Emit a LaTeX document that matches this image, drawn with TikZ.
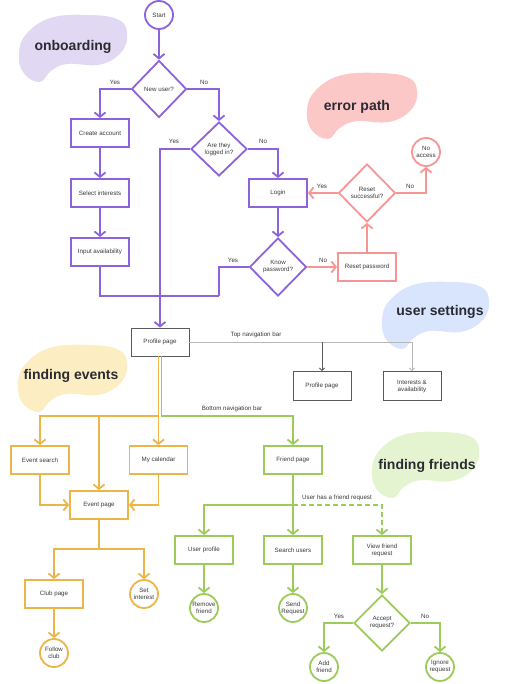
\documentclass[tikz,border=0pt]{standalone}
\usepackage{fontspec}
\setmainfont{Liberation Sans}
\usetikzlibrary{shapes.geometric,arrows.meta,calc}
\definecolor{pur}{HTML}{8C63DB}
\definecolor{sal}{HTML}{F79494}
\definecolor{ora}{HTML}{ECB548}
\definecolor{grn}{HTML}{9DCB5A}
\definecolor{dgray}{HTML}{5A5A5A}
\definecolor{lgray}{HTML}{B8B8B8}
\definecolor{txtc}{HTML}{3A3A3A}
\definecolor{headc}{HTML}{2A2A33}
\definecolor{blobpur}{HTML}{E1D9F3}
\definecolor{blobsal}{HTML}{FCC7C7}
\definecolor{blobblu}{HTML}{D8E5FC}
\definecolor{blobyel}{HTML}{FCEDC2}
\definecolor{blobgrn}{HTML}{E5F4D0}
\newcommand{\myblob}[5]{%
 \fill[#5] plot[smooth cycle, tension=0.7] coordinates {
 ({#1+1.00*#3},{#2+0.27*#4})
 ({#1+0.95*#3},{#2+0.55*#4})
 ({#1+0.75*#3},{#2+0.74*#4})
 ({#1+0.45*#3},{#2+0.73*#4})
 ({#1+0.30*#3},{#2+0.83*#4})
 ({#1+0.19*#3},{#2+1.00*#4})
 ({#1+0.04*#3},{#2+0.86*#4})
 ({#1+0.00*#3},{#2+0.57*#4})
 ({#1+0.07*#3},{#2+0.28*#4})
 ({#1+0.30*#3},{#2+0.04*#4})
 ({#1+0.66*#3},{#2+0.00*#4})
 ({#1+0.92*#3},{#2+0.07*#4})
 };}
\tikzset{
 txt/.style={font=\fontsize{6.2}{7}\selectfont, text=txtc},
 box/.style={draw, line width=1.8pt, minimum width=58pt, minimum height=28pt, inner sep=0pt, txt, align=center, fill=white},
 gbox/.style={draw=dgray, line width=0.9pt, minimum width=58pt, minimum height=28pt, inner sep=0pt, txt, align=center, fill=white},
 dia/.style={diamond, draw, line width=1.8pt, inner sep=0pt, minimum width=56pt, minimum height=57pt, txt, align=center, fill=white},
 circ/.style={circle, draw, line width=1.8pt, minimum size=28pt, inner sep=0pt, txt, align=center, fill=white},
 ln/.style={line width=1.8pt},
 arr/.style={-{Straight Barb[length=4.5pt,width=11pt]}},
 garr/.style={-{Straight Barb[length=2.5pt,width=5pt]}},
 lbl/.style={txt, inner sep=0pt},
 head/.style={font=\fontsize{14}{16}\selectfont\bfseries, text=headc, inner sep=0pt},
}
\begin{document}
\begin{tikzpicture}[x=1pt,y=-1pt]
\useasboundingbox (0,0) rectangle (511,684);
\fill[white] (0,0) rectangle (511,684);
% blobs
\myblob{19}{15}{108}{67}{blobpur}
\myblob{307}{73}{110}{66}{blobsal}
\myblob{382}{282}{107}{67}{blobblu}
\myblob{18}{345}{109}{67}{blobyel}
\myblob{372}{432}{107}{66}{blobgrn}
\node[head] (h1) at (73,47) {onboarding};
\node[head] (h2) at (357,107) {error path};
\node[head] (h3) at (440,312) {user settings};
\node[head] (h4) at (71,376) {finding events};
\node[head] (h5) at (427,466) {finding friends};

% purple nodes
\node[circ, draw=pur] (start) at (159,15) {Start};
\node[dia, draw=pur, minimum width=55pt] (newuser) at (159,89) {New user?};
\node[box, draw=pur] (create) at (100,133) {Create account};
\node[box, draw=pur] (select) at (100,193) {Select interests};
\node[box, draw=pur] (input) at (100,252) {Input availability};
\node[dia, draw=pur, minimum height=54pt] (logged) at (219,149) {Are they\\logged in?};
\node[box, draw=pur] (login) at (278,193) {Login};
\node[dia, draw=pur, minimum width=57pt, minimum height=58pt] (know) at (278,267) {Know\\password?};
% salmon nodes
\node[box, draw=sal] (reset) at (367,267) {Reset password};
\node[dia, draw=sal, minimum width=57pt, minimum height=58pt] (resetok) at (367,193) {Reset\\successful?};
\node[circ, draw=sal] (noaccess) at (426,152) {No\\access};
% gray nodes
\node[gbox] (profile) at (160,342) {Profile page};
\node[gbox, minimum height=29pt] (profile2) at (322,386) {Profile page};
\node[gbox, minimum height=29pt] (interests) at (412,386) {Interests \&\\availability};
% orange nodes
\node[box, draw=ora] (esearch) at (40,460) {Event search};
\node[box, draw=ora] (mycal) at (158.5,460) {My calendar};
\node[box, draw=ora] (epage) at (99,505) {Event page};
\node[box, draw=ora] (club) at (54,594) {Club page};
\node[circ, draw=ora] (setint) at (144,594) {Set\\interest};
\node[circ, draw=ora] (follow) at (54,653) {Follow\\club};
% green nodes
\node[box, draw=grn] (friend) at (293,460) {Friend page};
\node[box, draw=grn] (uprofile) at (204,550) {User profile};
\node[box, draw=grn] (search) at (293,550) {Search users};
\node[box, draw=grn] (viewreq) at (382,550) {View friend\\request};
\node[circ, draw=grn] (remove) at (204,608) {Remove\\friend};
\node[circ, draw=grn] (send) at (293,608) {Send\\Request};
\node[dia, draw=grn, minimum height=56pt] (accept) at (382,623) {Accept\\request?};
\node[circ, draw=grn] (add) at (324,667) {Add\\friend};
\node[circ, draw=grn] (ignore) at (440,667) {Ignore\\request};

% coordinates
\coordinate (j1) at (219,296);
\coordinate (tn1) at (322,342);
\coordinate (tn2) at (412,342);
\coordinate (ob) at (158.5,416);
\coordinate (gb) at (161.5,416);
\coordinate (eb) at (99,549);
\coordinate (fb) at (293,505);

% purple connectors
\draw[ln, pur, arr] (start) -- (newuser.north);
\draw[ln, pur, arr] (newuser.west) -| (create.north);
\draw[ln, pur, arr] (newuser.east) -| (logged.north);
\draw[ln, pur, arr] (create) -- (select);
\draw[ln, pur, arr] (select) -- (input);
\draw[ln, pur, arr] (logged.west) -| (profile.north);
\draw[ln, pur, arr] (logged.east) -| (login.north);
\draw[ln, pur, arr] (login) -- (know.north);
\draw[ln, pur] (input.south) |- (j1);
\draw[ln, pur] (know.west) -| (j1);
% salmon connectors
\draw[ln, sal, arr] (know.east) -- (reset.west);
\draw[ln, sal, arr] (reset.north) -- (resetok.south);
\draw[ln, sal, arr] (resetok.west) -- (login.east);
\draw[ln, sal, arr] (resetok.east) -| (noaccess.south);
% gray connectors
\draw[lgray, line width=0.9pt] (profile.east) -- (tn2);
\draw[dgray, line width=0.8pt, garr] (tn1) -- (profile2.north);
\draw[lgray, line width=0.9pt, garr] (tn2) -- (interests.north);
% orange connectors
\draw[ln, ora] ([xshift=-1.5pt]profile.south) -- (ob);
\draw[ln, ora, arr] (ob) -| (esearch.north);
\draw[ln, ora, arr] (ob) -- (mycal.north);
\draw[ln, ora, arr] (ob -| epage.north) -- (epage.north);
\draw[ln, ora, arr] (esearch.south) |- (epage.west);
\draw[ln, ora, arr] (mycal.south) |- (epage.east);
\draw[ln, ora] (epage.south) -- (eb);
\draw[ln, ora, arr] (eb) -| (club.north);
\draw[ln, ora, arr] (eb) -| (setint.north);
\draw[ln, ora, arr] (club) -- (follow);
% green connectors
\draw[ln, grn, arr] ([xshift=1.5pt]profile.south) -- (gb) -| (friend.north);
\draw[ln, grn] (friend.south) -- (fb);
\draw[ln, grn, arr] (fb) -| (uprofile.north);
\draw[ln, grn, arr] (fb) -- (search.north);
\draw[ln, grn, arr, dash pattern=on 5pt off 3pt] (fb) -| (viewreq.north);
\draw[ln, grn, arr] (uprofile) -- (remove);
\draw[ln, grn, arr] (search) -- (send);
\draw[ln, grn, arr] (viewreq) -- (accept.north);
\draw[ln, grn, arr] (accept.west) -| (add.north);
\draw[ln, grn, arr] (accept.east) -| (ignore.north);

% labels
\node[lbl] (l1) at (115,82) {Yes};
\node[lbl] (l2) at (204,82) {No};
\node[lbl] (l3) at (174,141) {Yes};
\node[lbl] (l4) at (263,141) {No};
\node[lbl] (l5) at (233,260) {Yes};
\node[lbl] (l6) at (323,260) {No};
\node[lbl] (l7) at (322,186) {Yes};
\node[lbl] (l8) at (410,186) {No};
\node[lbl] (l9) at (256,335) {Top navigation bar};
\node[lbl] (l10) at (232,409) {Bottom navigation bar};
\node[lbl] (l11) at (337,498) {User has a friend request};
\node[lbl] (l12) at (339,616) {Yes};
\node[lbl] (l13) at (425,616) {No};
\end{tikzpicture}
\end{document}
